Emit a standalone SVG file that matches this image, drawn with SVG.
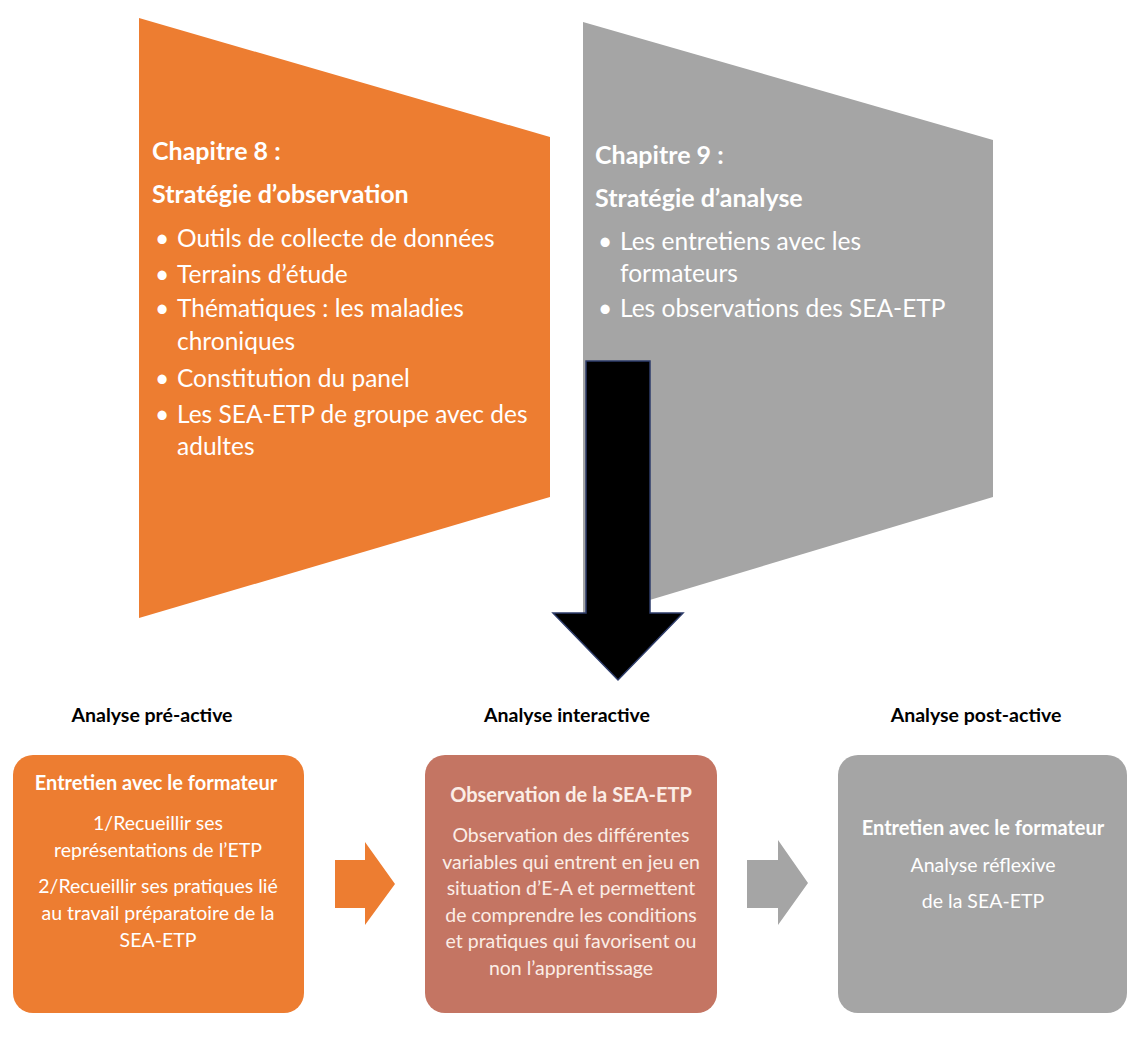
<svg xmlns="http://www.w3.org/2000/svg" width="1129" height="1053" viewBox="0 0 1129 1053">
<style>
  text { font-family: Lato, "Open Sans", "Liberation Sans", sans-serif; }
  .h { font-weight: bold; font-size: 25px; fill: #FFFFFF; }
  .b { font-size: 24.5px; fill: #FFFFFF; }
  .lbl { font-weight: bold; font-size: 19.5px; fill: #000000; text-anchor: middle; }
  .bt { font-weight: bold; font-size: 20px; fill: #FFFFFF; text-anchor: middle; }
  .bb { font-size: 19.5px; fill: #FFFFFF; text-anchor: middle; }
  .mt { fill: #FBEDE6; }
</style>
<rect width="1129" height="1053" fill="#FFFFFF"/>

<g id="chapitre8">
  <polygon points="139,18 550,137 550,497 139,618" fill="#ED7D31"/>
  <text class="h" x="152" y="160">Chapitre 8 :</text>
  <text class="h" x="152" y="203">Stratégie d’observation</text>
  <text class="b" x="155" y="247">•</text><text class="b" x="177" y="247">Outils de collecte de données</text>
  <text class="b" x="155" y="283">•</text><text class="b" x="177" y="283">Terrains d’étude</text>
  <text class="b" x="155" y="317">•</text><text class="b" x="177" y="317">Thématiques : les maladies</text>
  <text class="b" x="177" y="350">chroniques</text>
  <text class="b" x="155" y="387">•</text><text class="b" x="177" y="387">Constitution du panel</text>
  <text class="b" x="155" y="423">•</text><text class="b" x="177" y="423">Les SEA-ETP de groupe avec des</text>
  <text class="b" x="177" y="455">adultes</text>
</g>

<g id="chapitre9">
  <polygon points="583,22 993,140 993,497 583,620" fill="#A5A5A5"/>
  <text class="h" x="595" y="164">Chapitre 9 :</text>
  <text class="h" x="595" y="207">Stratégie d’analyse</text>
  <text class="b" x="598" y="250">•</text><text class="b" x="620" y="250">Les entretiens avec les</text>
  <text class="b" x="620" y="282">formateurs</text>
  <text class="b" x="598" y="317">•</text><text class="b" x="620" y="317">Les observations des SEA-ETP</text>
</g>

<g id="pre-active">
  <text class="lbl" x="152" y="722">Analyse pré-active</text>
  <rect x="13" y="755" width="291" height="258" rx="20" fill="#ED7D31"/>
  <text class="bt" x="156" y="790">Entretien avec le formateur</text>
  <text class="bb" x="158" y="830">1/Recueillir ses</text>
  <text class="bb" x="158" y="857">représentations de l’ETP</text>
  <text class="bb" x="158" y="893">2/Recueillir ses pratiques lié</text>
  <text class="bb" x="158" y="920">au travail préparatoire de la</text>
  <text class="bb" x="158" y="947">SEA-ETP</text>
</g>

<g id="interactive">
  <text class="lbl" x="567" y="722">Analyse interactive</text>
  <rect x="425" y="755" width="292" height="258" rx="20" fill="#C47563"/>
  <text class="bt mt" x="571" y="802">Observation de la SEA-ETP</text>
  <text class="bb mt" x="571" y="842">Observation des différentes</text>
  <text class="bb mt" x="571" y="869">variables qui entrent en jeu en</text>
  <text class="bb mt" x="571" y="895">situation d’E-A et permettent</text>
  <text class="bb mt" x="571" y="922">de comprendre les conditions</text>
  <text class="bb mt" x="571" y="948">et pratiques qui favorisent ou</text>
  <text class="bb mt" x="571" y="975">non l’apprentissage</text>
</g>

<g id="post-active">
  <text class="lbl" x="976" y="722">Analyse post-active</text>
  <rect x="838" y="755" width="289" height="258" rx="20" fill="#A5A5A5"/>
  <text class="bt" x="983" y="835">Entretien avec le formateur</text>
  <text class="bb" x="983" y="872">Analyse réflexive</text>
  <text class="bb" x="983" y="908">de la SEA-ETP</text>
</g>

<g id="connectors">
  <polygon points="586,361 650,361 650,613 683,613 618,680 553,613 586,613" fill="#000000" stroke="#2E3D6B" stroke-width="1.5"/>
  <polygon points="335,860 365,860 365,842 395,884 365,925 365,908 335,908" fill="#ED7D31"/>
  <polygon points="747,860 778,860 778,840 808,883 778,925 778,908 747,908" fill="#A5A5A5"/>
</g>
</svg>
